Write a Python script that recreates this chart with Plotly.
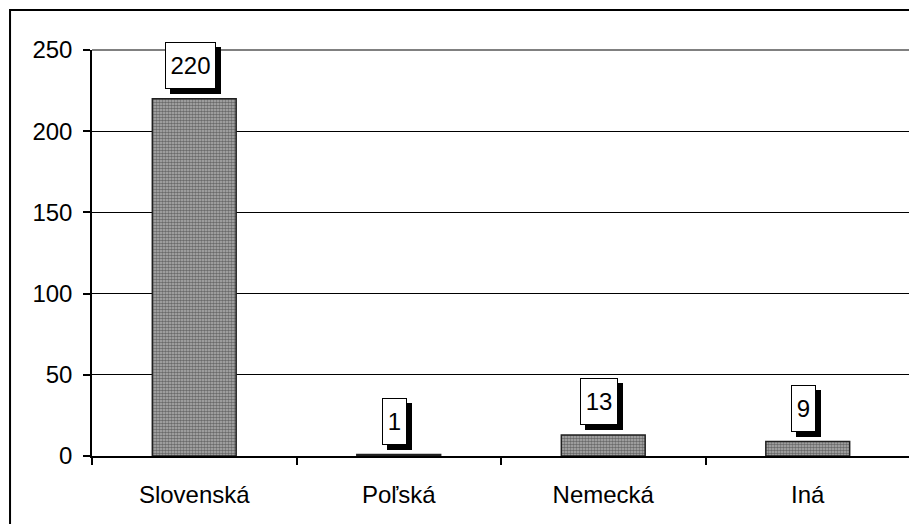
import plotly.graph_objects as go

categories = ["Slovenská", "Poľská", "Nemecká", "Iná"]
values = [220, 1, 13, 9]
y_ticks = [0, 50, 100, 150, 200, 250]

FONT = "Liberation Sans, Arial, sans-serif"

fig = go.Figure()
fig.add_trace(go.Bar(
    x=categories, y=values, width=0.41,
    marker=dict(
        color="#808080",
        line=dict(color="#202020", width=1.5),
        pattern=dict(shape=".", size=3, solidity=0.6, fgcolor="#202020", bgcolor="#b4b4b4"),
    ),
    hoverinfo="skip",
))

annotations = []
for c, v in zip(categories, values):
    w = 13 * len(str(v)) + 10
    annotations.append(dict(
        x=c, y=v, xref="x", yref="y", text=" ", showarrow=False,
        width=w, height=45, bgcolor="black", bordercolor="black", borderwidth=1,
        borderpad=0, xshift=-4 + 5, yshift=33 - 5, font=dict(size=24, family=FONT),
    ))
    annotations.append(dict(
        x=c, y=v, xref="x", yref="y", text=str(v), showarrow=False,
        width=w, height=45, bgcolor="white", bordercolor="black", borderwidth=1,
        borderpad=0, xshift=-4, yshift=33, font=dict(size=24, family=FONT, color="black"),
    ))

fig.update_layout(
    width=909, height=516,
    margin=dict(l=84, r=7, t=42, b=68),
    paper_bgcolor="white", plot_bgcolor="white",
    showlegend=False,
    font=dict(family=FONT, size=24, color="black"),
    annotations=annotations,
    shapes=[
        dict(type="rect", xref="paper", yref="paper", x0=-0.1002, x1=1.2, y0=-0.4, y1=1.0985,
             line=dict(color="black", width=2), layer="below"),
        dict(type="line", xref="paper", yref="paper", x0=0, x1=1, y0=1, y1=1,
             line=dict(color="#808080", width=2), layer="below"),
        dict(type="line", xref="paper", yref="paper", x0=1, x1=1, y0=0, y1=1,
             line=dict(color="#808080", width=2), layer="below"),
    ],
)
fig.update_yaxes(
    range=[0, 250], tickvals=y_ticks, ticks="outside", ticklen=7, tickwidth=1.5, tickcolor="black",
    showline=True, linecolor="black", linewidth=1.5,
    showgrid=True, gridcolor="black", gridwidth=1, zeroline=False,
    tickfont=dict(size=24, family=FONT), ticklabelstandoff=6,
)
fig.update_xaxes(
    showline=True, linecolor="black", linewidth=1.5,
    ticks="outside", tickson="boundaries", ticklen=7, tickwidth=1.5, tickcolor="black",
    showgrid=False, tickfont=dict(size=24, family=FONT), ticklabelstandoff=16,
)

fig.write_html("out.html")
